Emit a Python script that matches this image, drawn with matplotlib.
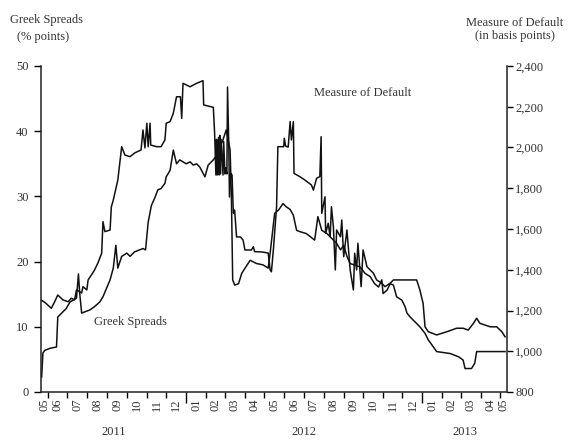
import matplotlib
matplotlib.use("Agg")
import matplotlib.pyplot as plt
import matplotlib.transforms as mtransforms
import pandas as pd

plt.rcParams['font.family'] = ['Liberation Serif', 'DejaVu Serif']
plt.rcParams['font.size'] = 9

# Greek spreads, percentage points (left axis)
gs_dates = [
    "2011-05-22", "2011-05-24", "2011-05-27", "2011-06-04", "2011-06-14", "2011-06-16",
    "2011-06-24", "2011-06-29", "2011-07-05", "2011-07-10", "2011-07-15", "2011-07-18",
    "2011-07-20", "2011-07-23", "2011-07-28", "2011-08-05", "2011-08-12", "2011-08-20",
    "2011-08-25", "2011-09-05", "2011-09-10", "2011-09-14", "2011-09-17", "2011-09-23",
    "2011-10-01", "2011-10-06", "2011-10-13", "2011-10-26", "2011-10-30", "2011-11-03",
    "2011-11-08", "2011-11-13", "2011-11-18", "2011-11-23", "2011-11-29", "2011-12-01",
    "2011-12-07", "2011-12-12", "2011-12-17", "2011-12-22", "2012-01-01", "2012-01-07",
    "2012-01-12", "2012-01-17", "2012-01-22", "2012-01-30", "2012-02-04", "2012-02-12",
    "2012-02-17", "2012-02-27", "2012-03-03", "2012-03-06", "2012-03-09", "2012-03-11",
    "2012-03-13", "2012-03-16", "2012-03-22", "2012-03-27", "2012-04-09", "2012-04-19",
    "2012-04-29", "2012-05-07", "2012-05-10", "2012-05-17", "2012-05-23", "2012-05-30",
    "2012-06-04", "2012-06-10", "2012-06-15", "2012-06-20", "2012-06-25", "2012-07-05",
    "2012-07-18", "2012-07-23", "2012-07-29", "2012-08-06", "2012-08-21", "2012-08-27",
    "2012-09-01", "2012-09-06", "2012-09-11", "2012-09-26", "2012-10-04", "2012-10-12",
    "2012-10-19", "2012-10-25", "2012-10-30", "2012-11-01", "2012-11-07", "2012-11-12",
    "2012-11-17", "2012-11-22", "2012-11-30", "2012-12-05", "2012-12-08", "2012-12-13",
    "2012-12-23", "2012-12-28", "2013-01-05", "2013-01-10", "2013-01-18", "2013-01-23",
    "2013-02-13", "2013-02-26", "2013-03-05", "2013-03-08", "2013-03-18", "2013-03-23",
    "2013-03-26", "2013-04-16", "2013-05-09",
]
gs_values = [
    2.3, 6.0, 6.4, 6.7, 6.9, 11.5,
    12.3, 12.8, 13.8, 14.1, 14.4, 18.1,
    15.1, 12.1, 12.3, 12.6, 13.1, 13.8,
    14.6, 17.2, 19.0, 22.5, 19.0, 20.8,
    21.3, 20.8, 21.5, 22.0, 21.8, 26.0,
    28.6, 29.7, 31.0, 31.2, 32.0, 33.0,
    34.0, 37.1, 35.0, 35.6, 35.0, 35.3,
    34.8, 35.0, 34.5, 33.0, 34.8, 35.6,
    36.3, 38.7, 40.2, 38.7, 37.1, 30.0,
    17.2, 16.4, 16.6, 18.2, 20.2, 19.7,
    19.5, 19.0, 21.3, 27.4, 27.9, 28.9,
    28.4, 28.0, 27.1, 24.8, 24.6, 24.3,
    23.3, 26.9, 24.8, 24.3, 22.8, 21.8,
    22.5, 20.8, 19.7, 19.2, 18.2, 17.7,
    16.6, 16.1, 17.2, 15.1, 15.6, 16.6,
    16.4, 14.6, 14.1, 13.1, 12.1, 11.5,
    10.5, 10.0, 9.0, 8.0, 6.9, 6.2,
    5.9, 5.4, 4.9, 3.6, 3.6, 4.4,
    6.2, 6.2, 6.2,
]

# Measure of default, basis points (right axis)
mod_dates = [
    "2011-05-22", "2011-05-28", "2011-06-06", "2011-06-11", "2011-06-16", "2011-06-24",
    "2011-07-02", "2011-07-07", "2011-07-12", "2011-07-15", "2011-07-23", "2011-07-25",
    "2011-07-31", "2011-08-02", "2011-08-07", "2011-08-12", "2011-08-17", "2011-08-23",
    "2011-08-25", "2011-08-28", "2011-09-05", "2011-09-07", "2011-09-10", "2011-09-17",
    "2011-09-23", "2011-09-28", "2011-10-06", "2011-10-13", "2011-10-23", "2011-10-26",
    "2011-10-29", "2011-11-01", "2011-11-03", "2011-11-06", "2011-11-07", "2011-11-16",
    "2011-11-23", "2011-11-29", "2011-12-01", "2011-12-07", "2011-12-12", "2011-12-17",
    "2011-12-23", "2011-12-25", "2011-12-27", "2012-01-07", "2012-01-17", "2012-01-27",
    "2012-01-28", "2012-02-12", "2012-02-14", "2012-02-16", "2012-02-17", "2012-02-18",
    "2012-02-20", "2012-02-21", "2012-02-22", "2012-02-23", "2012-02-24", "2012-02-27",
    "2012-02-28", "2012-03-01", "2012-03-02", "2012-03-04", "2012-03-05", "2012-03-07",
    "2012-03-08", "2012-03-10", "2012-03-12", "2012-03-14", "2012-03-16", "2012-03-19",
    "2012-03-25", "2012-03-29", "2012-04-01", "2012-04-11", "2012-04-14", "2012-04-16",
    "2012-04-28", "2012-05-07", "2012-05-10", "2012-05-12", "2012-05-15", "2012-05-20",
    "2012-05-22", "2012-05-31", "2012-06-01", "2012-06-03", "2012-06-07", "2012-06-10",
    "2012-06-12", "2012-06-15", "2012-06-16", "2012-06-25", "2012-07-03", "2012-07-13",
    "2012-07-16", "2012-07-21", "2012-07-26", "2012-07-28", "2012-07-29", "2012-08-03",
    "2012-08-04", "2012-08-08", "2012-08-11", "2012-08-13", "2012-08-16", "2012-08-19",
    "2012-08-21", "2012-08-27", "2012-08-29", "2012-09-01", "2012-09-06", "2012-09-11",
    "2012-09-16", "2012-09-18", "2012-09-21", "2012-09-23", "2012-09-28", "2012-10-01",
    "2012-10-07", "2012-10-17", "2012-10-22", "2012-10-30", "2012-11-04", "2012-11-12",
    "2012-11-17", "2012-12-08", "2012-12-23", "2012-12-28", "2013-01-02", "2013-01-05",
    "2013-01-10", "2013-01-23", "2013-02-08", "2013-02-23", "2013-03-05", "2013-03-13",
    "2013-03-21", "2013-03-26", "2013-03-31", "2013-04-16", "2013-04-26", "2013-05-04",
    "2013-05-09",
]
mod_values = [
    1250, 1237, 1211, 1242, 1276, 1252,
    1243, 1260, 1252, 1301, 1286, 1317,
    1301, 1350, 1374, 1399, 1432, 1481,
    1636, 1587, 1595, 1709, 1742, 1840,
    2004, 1963, 1955, 1973, 1988, 2086,
    1998, 2119, 2004, 2119, 2012, 2004,
    2004, 2037, 2119, 2127, 2168, 2249,
    2249, 2143, 2315, 2298, 2315, 2328,
    2209, 2197, 2070, 1865, 2040, 1865,
    2050, 1865, 2060, 1870, 2040, 1865,
    2030, 1870, 1900, 1870, 2297, 2000,
    1757, 1873, 1865, 1677, 1693, 1561,
    1561, 1546, 1497, 1497, 1513, 1489,
    1487, 1482, 1399, 1390, 1497, 1709,
    2004, 2004, 2045, 2007, 2002, 2127,
    2037, 2127, 1873, 1857, 1840, 1816,
    1791, 1849, 1857, 2053, 1677, 1758,
    1579, 1628, 1562, 1709, 1611, 1399,
    1595, 1562, 1644, 1464, 1595, 1399,
    1301, 1481, 1399, 1530, 1317, 1497,
    1415, 1383, 1350, 1334, 1317, 1334,
    1350, 1350, 1350, 1301, 1235, 1120,
    1096, 1080, 1096, 1113, 1113, 1104,
    1137, 1162, 1137, 1120, 1120, 1096,
    1071,
]

x_start = pd.Timestamp("2011-05-21")
x_end = pd.Timestamp("2013-05-12")
years = [2011, 2012, 2013]

W, H = 572, 441
fig = plt.figure(figsize=(W / 100, H / 100), dpi=100)
left, right, top, bottom = 41, 507, 66, 392
ax = fig.add_axes([left / W, 1 - bottom / H, (right - left) / W, (bottom - top) / H])
ax2 = ax.twinx()

line_kw = dict(color="#111111", lw=1.1)
ax.plot(pd.to_datetime(gs_dates), gs_values, **line_kw)
ax2.plot(pd.to_datetime(mod_dates), mod_values, **line_kw)

ax.set_xlim(x_start, x_end)
ax.set_ylim(0, 50)
ax2.set_ylim(800, 2400)
ax.set_yticks(range(0, 51, 10))
ax2.set_yticks(range(800, 2401, 200))
ax2.set_yticklabels([f"{v:,}" for v in range(800, 2401, 200)])

txt_col = "#333333"
for a in (ax, ax2):
    a.spines["top"].set_visible(False)
    for s in a.spines.values():
        s.set_linewidth(1.1)
        s.set_color("#222222")
ax.spines["right"].set_visible(False)
ax2.spines["left"].set_visible(False)
ax2.spines["bottom"].set_visible(False)

ax.tick_params(axis="y", direction="out", length=5, width=1, pad=4, labelcolor=txt_col)
ax2.tick_params(axis="y", direction="out", length=4, width=1, pad=2, labelcolor=txt_col)

# month boundary ticks, longer at year boundaries
month_starts = pd.date_range("2011-06-01", "2013-05-01", freq="MS")
year_starts = [d for d in month_starts if d.month == 1]
ax.set_xticks(year_starts)
ax.set_xticks(month_starts, minor=True)
ax.set_xticklabels([])
ax.tick_params(axis="x", which="major", direction="out", length=8, width=1)
ax.tick_params(axis="x", which="minor", direction="out", length=4.5, width=1)

# month labels centred on the visible part of each month
trans = mtransforms.blended_transform_factory(ax.transData, ax.transAxes)
for m in pd.date_range("2011-05-01", "2013-05-01", freq="MS"):
    a = max(m, x_start)
    b = min(m + pd.offsets.MonthBegin(1), x_end)
    c = a + (b - a) / 2
    ax.text(c, -0.02, m.strftime("%m"), rotation=90, ha="center", va="top",
            transform=trans, color=txt_col, fontsize=9)

for y in years:
    a = max(pd.Timestamp(f"{y}-01-01"), x_start)
    b = min(pd.Timestamp(f"{y + 1}-01-01"), x_end)
    c = a + (b - a) / 2
    ax.text(c, -0.123, str(y), ha="center", va="center", transform=trans,
            color=txt_col, fontsize=9)

# axis titles and series labels
def ftext(px, py, s, **kw):
    fig.text(px / W, 1 - py / H, s, ha="center", va="center", color=txt_col, fontsize=9, **kw)

ftext(47, 20, "Greek Spreads")
ftext(43, 37, "(% points)")
ftext(515, 23, "Measure of Default")
ftext(515, 36, "(in basis points)")
ftext(363, 93, "Measure of Default")
ftext(131, 322, "Greek Spreads")

fig.savefig("out.png", dpi=100)
